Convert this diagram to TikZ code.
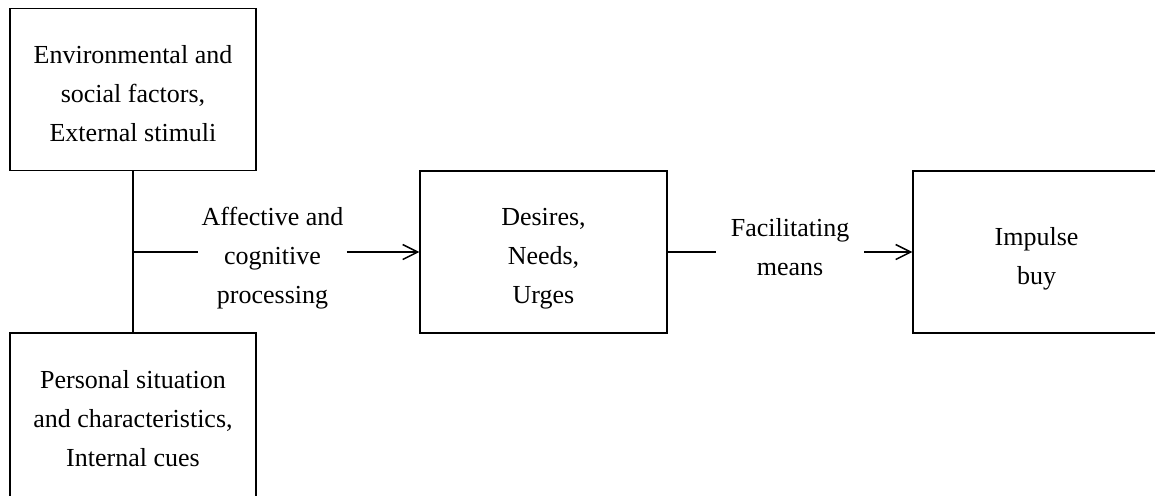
\documentclass[tikz,border=0pt]{standalone}
\usepackage{fontspec}
\setmainfont{Liberation Serif}
\usetikzlibrary{arrows.meta}
\newcommand\lst[1]{\rule[-#1]{0pt}{19.5pt}}
\begin{document}
\begin{tikzpicture}[x=0.5pt,y=-0.5pt,
  box/.style={draw,line width=0.9pt,rectangle,minimum width=123.25pt,minimum height=81pt,
    inner sep=0pt,align=center,font=\fontsize{13}{19.5}\selectfont},
  lbl/.style={rectangle,minimum width=74pt,inner sep=0pt,align=center,
    font=\fontsize{13}{19.5}\selectfont},
  conn/.style={line width=0.75pt},
  arr/.style={conn,-{Straight Barb[length=7.5pt,width=7.5pt,line width=0.75pt]}}]
\useasboundingbox (0,0) rectangle (1155,495);
\clip (0,0) rectangle (1155,495);
\node[box] (env) at (133,89.5)
  {\lst{3.4pt}Environmental and\\\lst{3.4pt}social factors,\\\lst{3.4pt}External stimuli};
\node[box,minimum height=85pt] (pers) at (133,418)
  {\lst{5.25pt}Personal situation\\\lst{5.25pt}and characteristics,\\\lst{5.25pt}Internal cues};
\node[box] (des) at (543.5,252)
  {\lst{3.4pt}Desires,\\\lst{3.4pt}Needs,\\\lst{3.4pt}Urges};
\node[box] (imp) at (1036.5,252)
  {\lst{3.4pt}Impulse\\\lst{3.4pt}buy};
\node[lbl] (aff) at (272.5,252)
  {\lst{3.4pt}Affective and\\\lst{3.4pt}cognitive\\\lst{3.4pt}processing};
\node[lbl] (fac) at (790,252)
  {\lst{7.75pt}Facilitating\\\lst{7.75pt}means};
\coordinate (j) at (133,252);
\draw[conn] (env.south) -- (pers.north);
\draw[conn] (j) -- (aff.west);
\draw[arr] (aff.east) -- (des.west);
\draw[conn] (des.east) -- (fac.west);
\draw[arr] (fac.east) -- (imp.west);
\end{tikzpicture}
\end{document}
